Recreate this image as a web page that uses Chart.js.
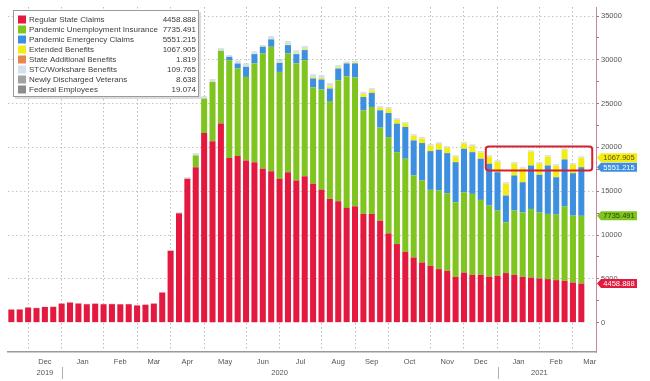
<!DOCTYPE html>
<html><head><meta charset="utf-8">
<script src="https://cdn.jsdelivr.net/npm/chart.js@4.4.1/dist/chart.umd.min.js"></script>
<style>html,body{margin:0;padding:0;background:#fff;}canvas{display:block;}</style>
</head><body>
<canvas id="c" width="650" height="381"></canvas>
<script>
// ---- categories: weekly observations (Bloomberg Friday dates) ----
const weeks = [
 '2019-11-22','2019-11-29','2019-12-06','2019-12-13','2019-12-20','2019-12-27',
 '2020-01-03','2020-01-10','2020-01-17','2020-01-24','2020-01-31',
 '2020-02-07','2020-02-14','2020-02-21','2020-02-28',
 '2020-03-06','2020-03-13','2020-03-20','2020-03-27',
 '2020-04-03','2020-04-10','2020-04-17','2020-04-24',
 '2020-05-01','2020-05-08','2020-05-15','2020-05-22','2020-05-29',
 '2020-06-05','2020-06-12','2020-06-19','2020-06-26',
 '2020-07-03','2020-07-10','2020-07-17','2020-07-24','2020-07-31',
 '2020-08-07','2020-08-14','2020-08-21','2020-08-28',
 '2020-09-04','2020-09-11','2020-09-18','2020-09-25',
 '2020-10-02','2020-10-09','2020-10-16','2020-10-23','2020-10-30',
 '2020-11-06','2020-11-13','2020-11-20','2020-11-27',
 '2020-12-04','2020-12-11','2020-12-18','2020-12-25',
 '2021-01-01','2021-01-08','2021-01-15','2021-01-22','2021-01-29',
 '2021-02-05','2021-02-12','2021-02-19','2021-02-26',
 '2021-03-05','2021-03-12'
];
// ---- series (thousands) ----
const regularState = [1490,1500,1720,1660,1790,1800, 2170,2290,2180,2100,2160, 2100,2110,2090,2100, 1960,2040,2170,3435, 8200,12480,16420,17750, 21640,20720,22720,18780,19010, 18510,18320,17560,17290, 16420,17170,16220,16720,15850, 15160,14130,13860,13100, 13280,12410,12410,11640, 10190,8970,8090,7440,6870, 6490,6110,5920,5230, 5720,5460,5460,5250, 5350,5660,5460,5230,5150, 5040,4970,4855,4775, 4580,4458.888];
const pandemicUnemployment = [0,0,0,0,0,0, 0,0,0,0,0, 0,0,0,0, 0,0,0,0, 0,0,0,1340, 3940,6760,8310,11180,10000, 9540,11270,13170,14200, 12200,13560,13370,13240,10990, 11450,11170,13810,15030, 14700,11830,12210,10620, 10990,10490,10620,9360,9350, 8670,8970,8850,8510, 9160,9240,8550,8110, 7440,5790,7330,7360,7830, 7550,7440,7475,8475, 7640,7735.491];
const pandemicEmergency = [0,0,0,0,0,0, 0,0,0,0,0, 0,0,0,0, 0,0,0,0, 0,0,0,0, 0,0,0,380,570, 1150,1060,760,840, 1030,950,1060,1150,1030, 1140,1420,1340,1460, 1610,1520,1600,1980, 2750,3260,3620,4000,4280, 4420,4660,4580,4580, 4970,4760,4700,4780, 4380,3060,4010,3440,4960, 4290,5530,4270,5380, 4840,5551.215];
const extendedBenefits = [1,1,1,1,1,1, 1,1,1,1,1, 1,1,1,1, 1,1,1,1, 1,2,2,3, 3,4,5,10,15, 20,25,30,40, 50,60,80,110,150, 180,250,130,60, 100,330,290,280, 450,410,420,540,530, 620,650,650,620, 610,700,720,800, 1190,1380,1380,1580,1580, 1300,1010,1320,1080, 1000,1067.905];
const stateAdditional = [0,0,0,0,0,0, 0,0,0,0,0, 0,0,0,0, 0,0,0,0, 0,1,1,2, 3,4,5,6,6, 6,6,6,6, 6,6,5,5,5, 5,5,4,4, 4,4,4,4, 3,3,3,3,3, 3,3,3,3, 3,3,3,3, 3,3,2,2,2, 2,2,2,2, 2,1.819];
const stcWorkshare = [8,8,9,9,10,10, 14,15,15,14,14, 13,13,12,12, 11,11,12,20, 45,80,140,190, 230,250,240,160,255, 340,205,130,310, 310,290,270,320,300, 280,300,220,90, 130,210,180,150, 140,130,120,120,120, 120,120,120,120, 120,120,120,120, 120,110,110,110,110, 110,110,110,110, 110,109.765];
const newlyDischargedVets = [8,8,8,8,8,8, 9,9,9,9,9, 9,9,9,9, 9,9,9,9, 9,10,10,10, 11,11,11,11,11, 11,11,11,11, 11,11,11,11,11, 10,10,10,10, 10,10,10,10, 10,10,10,10,10, 9,9,9,9, 9,9,9,9, 9,9,9,9,9, 9,9,9,9, 9,8.638];
const federalEmployees = [13,13,14,14,14,15, 16,17,17,17,16, 16,15,15,15, 14,14,14,15, 17,19,20,21, 22,22,22,22,22, 22,22,22,22, 22,22,22,21,21, 21,21,21,21, 20,20,20,20, 20,20,20,20,20, 20,20,20,20, 20,20,20,20, 20,20,19,19,19, 19,19,19,19, 19,19.074];
// ---- tick labels ----
const monthNames = ['Jan','Feb','Mar','Apr','May','Jun','Jul','Aug','Sep','Oct','Nov','Dec'];
const yMajorTicks = [0,5000,10000,15000,20000,25000,30000,35000];
const yMinorTicks = [2500,7500,12500,17500,22500,27500,32500];
// highlighted region (data units: week index / thousands)
const highlight = {x0:56.6, x1:69.3, y0:17370, y1:20120};

const seriesDefs = [
 {label:'Regular State Claims', data:regularState, color:'#e3193f'},
 {label:'Pandemic Unemployment Insurance', data:pandemicUnemployment, color:'#7fc41f'},
 {label:'Pandemic Emergency Claims', data:pandemicEmergency, color:'#3d8fe0'},
 {label:'Extended Benefits', data:extendedBenefits, color:'#f4ec16'},
 {label:'State Additional Benefits', data:stateAdditional, color:'#e8874b'},
 {label:'STC/Workshare Benefits', data:stcWorkshare, color:'#d3e1ef'},
 {label:'Newly Discharged Veterans', data:newlyDischargedVets, color:'#a2a2a2'},
 {label:'Federal Employees', data:federalEmployees, color:'#8c8c8c'}
];

// month boundaries: first week of each month
const monthStarts = [];
weeks.forEach((w,i)=>{ if (Number(w.slice(8,10)) <= 7) monthStarts.push(i); });
const monthLabelPos = [], monthLabelText = [];
monthStarts.forEach((s,k)=>{
  const e = k+1 < monthStarts.length ? monthStarts[k+1] : s + 4;
  monthLabelPos.push((s+e)/2);
  monthLabelText.push(monthNames[Number(weeks[s].slice(5,7))-1]);
});
const yearStarts = monthStarts.filter(i => weeks[i].slice(5,7) === '01');
const yearLabelPos = [monthLabelPos[0], (yearStarts[0]+yearStarts[1])/2, (yearStarts[1]+weeks.length-1)/2];
const yearLabelText = [weeks[monthStarts[0]].slice(0,4), weeks[yearStarts[0]].slice(0,4), weeks[yearStarts[1]].slice(0,4)];

const XMIN = -0.4, XMAX = 69.75, YMIN = -3350, YMAX = 36030;
const FONT = '"Liberation Sans", Arial, sans-serif';
const last = a => a[a.length-1];

const overlay = {
  id:'overlay',
  afterDraw(chart){
    const ctx = chart.ctx, xs = chart.scales.x, ys = chart.scales.y;
    ctx.save();
    // year separators
    ctx.strokeStyle = '#b0b0b0'; ctx.lineWidth = 1;
    yearStarts.forEach(i=>{
      const px = Math.round(xs.getPixelForValue(i))+0.5;
      ctx.beginPath(); ctx.moveTo(px, 367); ctx.lineTo(px, 379); ctx.stroke();
    });
    // highlight box
    const hx0 = xs.getPixelForValue(highlight.x0), hx1 = xs.getPixelForValue(highlight.x1);
    const hy0 = ys.getPixelForValue(highlight.y1), hy1 = ys.getPixelForValue(highlight.y0);
    ctx.strokeStyle = '#d3212f'; ctx.lineWidth = 2;
    ctx.beginPath(); ctx.roundRect(hx0, hy0, hx1-hx0, hy1-hy0, 3); ctx.stroke();
    // value tags on the right axis
    const c1 = last(regularState), c2 = c1 + last(pandemicUnemployment), c3 = c2 + last(pandemicEmergency), c4 = c3 + last(extendedBenefits);
    const tags = [
      {v:c1, txt:last(regularState).toFixed(3), bg:'#e3193f', fg:'#ffffff'},
      {v:c2, txt:last(pandemicUnemployment).toFixed(3), bg:'#7fc41f', fg:'#2a4a00'},
      {v:c4, txt:last(extendedBenefits).toFixed(3), bg:'#f4ec16', fg:'#5a5200'},
      {v:c3, txt:last(pandemicEmergency).toFixed(3), bg:'#3d8fe0', fg:'#ffffff'}
    ];
    ctx.font = '7.5px ' + FONT; ctx.textAlign = 'center'; ctx.textBaseline = 'middle';
    tags.forEach(t=>{
      const y = ys.getPixelForValue(t.v);
      ctx.fillStyle = t.bg;
      ctx.beginPath();
      ctx.moveTo(597, y); ctx.lineTo(601, y-4.5); ctx.lineTo(637, y-4.5); ctx.lineTo(637, y+4.5); ctx.lineTo(601, y+4.5); ctx.closePath();
      ctx.fill();
      ctx.fillStyle = t.fg; ctx.fillText(t.txt, 619, y+0.5);
    });
    // legend box
    ctx.fillStyle = '#dcdcdc'; ctx.fillRect(15, 12, 186, 87);
    ctx.fillStyle = '#ffffff'; ctx.fillRect(13, 10, 186, 87);
    ctx.strokeStyle = '#9a9a9a'; ctx.lineWidth = 1; ctx.strokeRect(13.5, 10.5, 185, 86);
    ctx.font = '8px ' + FONT; ctx.textBaseline = 'middle';
    seriesDefs.forEach((s,k)=>{
      const y = 19.5 + k*10;
      ctx.fillStyle = s.color; ctx.fillRect(18, y-4, 8, 8);
      ctx.fillStyle = '#3c3c3c'; ctx.textAlign = 'left'; ctx.fillText(s.label, 29, y);
      ctx.textAlign = 'right'; ctx.fillText(last(s.data).toFixed(3), 196, y);
    });
    ctx.restore();
  }
};

new Chart(document.getElementById('c'), {
  type:'bar',
  data:{ datasets: seriesDefs.map(s=>({
    label:s.label, data:s.data.map((v,i)=>({x:i, y:v})), backgroundColor:s.color,
    stack:'claims', borderWidth:0, categoryPercentage:1, barPercentage:0.72
  })) },
  options:{
    responsive:false, animation:false, devicePixelRatio:1,
    layout:{ padding:{ left:8, top:7, right:0, bottom:0 } },
    plugins:{ legend:{display:false}, tooltip:{enabled:false} },
    scales:{
      x:{ type:'linear', min:XMIN, max:XMAX, bounds:'data', weight:0, offset:false,
          afterBuildTicks:s=>{ s.ticks = monthStarts.map(v=>({value:v})); },
          afterFit:s=>{ s.height = 0; },
          grid:{ color:'#bdbdbd', drawTicks:false, lineWidth:1, offset:false },
          border:{ display:true, color:'#9a9a9a', width:1.5, dash:[1.5,2.5] },
          ticks:{ display:false } },
      xm:{ type:'linear', position:'bottom', min:XMIN, max:XMAX, bounds:'data', weight:1, offset:false,
          afterBuildTicks:s=>{ s.ticks = monthLabelPos.map(v=>({value:v})); },
          afterFit:s=>{ s.height = 16; },
          grid:{ display:false, drawTicks:false, offset:false }, border:{ display:false },
          ticks:{ autoSkip:false, maxRotation:0, minRotation:0, padding:5, color:'#555', font:{family:FONT, size:7.5},
                  callback:(v,i)=>monthLabelText[i] } },
      xy:{ type:'linear', position:'bottom', min:XMIN, max:XMAX, bounds:'data', weight:2, offset:false,
          afterBuildTicks:s=>{ s.ticks = yearLabelPos.map(v=>({value:v})); },
          afterFit:s=>{ s.height = 13; },
          grid:{ display:false, drawTicks:false, offset:false }, border:{ display:false },
          ticks:{ autoSkip:false, maxRotation:0, minRotation:0, padding:0, color:'#555', font:{family:FONT, size:7.5},
                  callback:(v,i)=>yearLabelText[i] } },
      y:{ type:'linear', position:'right', min:YMIN, max:YMAX, stacked:true,
          afterBuildTicks:s=>{ s.ticks = yMajorTicks.concat(yMinorTicks).sort((a,b)=>a-b).map(v=>({value:v})); },
          afterFit:s=>{ s.width = 54; },
          grid:{ color:c => (c.tick && c.tick.value > 0 && yMajorTicks.includes(c.tick.value)) ? '#c4c4c4' : 'rgba(0,0,0,0)',
                 lineWidth:1, drawTicks:true, tickLength:3, tickColor:'#a07884', tickWidth:1 },
          border:{ display:true, color:'#c9889a', width:1, dash:[1.5,2.5] },
          ticks:{ padding:2, color:'#555', font:{family:FONT, size:7.5},
                  callback:v => yMajorTicks.includes(v) ? String(v) : '' } }
    }
  },
  plugins:[overlay]
});
</script>
</body></html>
